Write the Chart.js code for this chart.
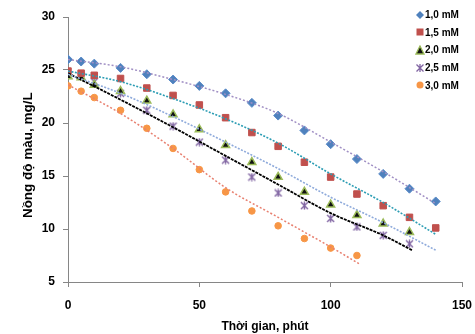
<!DOCTYPE html>
<html>
<head>
<meta charset="utf-8">
<script src="https://cdn.jsdelivr.net/npm/chart.js@4"></script>
<style>
  html, body { margin: 0; padding: 0; background: #fff; }
  #wrap { position: relative; width: 475px; height: 334px; }
  #legend {
    position: absolute; left: 415px; top: 6px;
    font: bold 10px "Liberation Sans", Arial, sans-serif; color: #000;
  }
  #legend div { height: 17.6px; display: flex; align-items: center; white-space: nowrap; }
  #legend svg { width: 10px; height: 10px; margin-right: 0; }
</style>
</head>
<body>
<div id="wrap">
  <canvas id="chart" width="475" height="334"></canvas>
  <div id="legend"></div>
</div>
<script>
// measured points (time in minutes, colour in mg/L)
const times = [0, 5, 10, 20, 30, 40, 50, 60, 70, 80, 90, 100, 110, 120, 130, 140]
const conc10 = [26.0, 25.8, 25.6, 25.2, 24.6, 24.1, 23.5, 22.8, 21.9, 20.7, 19.3, 18.0, 16.6, 15.2, 13.8, 12.6]
const conc15 = [24.9, 24.7, 24.5, 24.2, 23.3, 22.6, 21.7, 20.5, 19.1, 17.8, 16.3, 14.9, 13.3, 12.2, 11.1, 10.1]
const conc20 = [24.4, 24.3, 23.6, 23.0, 22.1, 20.8, 19.4, 17.9, 16.3, 14.9, 13.5, 12.3, 11.3, 10.5, 9.7]
const conc25 = [24.5, 24.4, 23.9, 22.8, 21.2, 19.7, 18.2, 16.5, 14.9, 13.4, 12.2, 11.0, 10.2, 9.4, 8.6]
const conc30 = [23.5, 23.0, 22.4, 21.2, 19.5, 17.6, 15.6, 13.5, 11.7, 10.3, 9.1, 8.2, 7.5]

// trend lines
const trendTimes = [0, 20, 40, 60, 80, 100, 120, 140]
const trend10 = [26.0, 25.3, 24.1, 22.7, 20.9, 18.2, 15.4, 12.4]
const trend15 = [24.9, 23.9, 22.3, 20.4, 18.1, 15.2, 12.5, 9.5]
const trend20 = [24.6, 22.8, 20.6, 18.2, 15.7, 13.0, 10.6, 8.0]
const trend25Times = [0, 20, 40, 60, 80, 100, 120, 131]
const trend25 = [24.7, 22.2, 19.6, 16.9, 14.2, 11.5, 9.4, 8.0]
const trend30Times = [0, 20, 40, 60, 80, 100, 111]
const trend30 = [23.6, 20.9, 17.6, 13.9, 11.1, 8.3, 6.7]

const seriesLabels = ['1,0 mM', '1,5 mM', '2,0 mM', '2,5 mM', '3,0 mM']
const xTicks = [0, 50, 100, 150]
const yTicks = [5, 10, 15, 20, 25, 30]

const FONT = '"Liberation Sans", Arial, sans-serif'

function toPoints(xs, ys) {
  return ys.map((y, i) => ({ x: xs[i], y: y }))
}

// Excel style star marker: X with a vertical bar
function starMarker() {
  const c = document.createElement('canvas')
  c.width = 9
  c.height = 9
  const ctx = c.getContext('2d')
  ctx.strokeStyle = '#8064A2'
  ctx.lineWidth = 1.4
  ctx.beginPath()
  ctx.moveTo(1, 1); ctx.lineTo(8, 8)
  ctx.moveTo(8, 1); ctx.lineTo(1, 8)
  ctx.moveTo(4.5, 0.5); ctx.lineTo(4.5, 8.5)
  ctx.stroke()
  return c
}

function points(label, data, style, color, border, radius, bw) {
  return {
    type: 'scatter', label: label, data: data, order: 1,
    pointStyle: style, pointRadius: radius, pointHoverRadius: radius,
    backgroundColor: color, borderColor: border, pointBorderWidth: bw, showLine: false
  }
}

function trend(data, color, dash, width) {
  return {
    type: 'line', data: data, order: 0, label: '',
    borderColor: color, borderWidth: width, borderDash: dash,
    pointRadius: 0, cubicInterpolationMode: 'monotone', fill: false
  }
}

const datasets = [
  points(seriesLabels[0], toPoints(times, conc10), 'rectRot', '#4F81BD', '#5b8cc8', 4.5, 1),
  points(seriesLabels[1], toPoints(times, conc15), 'rect', '#C0504D', '#C0504D', 4.6, 1),
  points(seriesLabels[2], toPoints(times, conc20), 'triangle', '#111111', '#9BBB59', 4.6, 1.5),
  points(seriesLabels[3], toPoints(times, conc25), starMarker(), '#8064A2', '#8064A2', 4.5, 1),
  points(seriesLabels[4], toPoints(times, conc30), 'circle', '#F79646', '#F79646', 3.3, 1),
  trend(toPoints(trendTimes, trend10), '#a08fc4', [2, 2], 1.5),
  trend(toPoints(trendTimes, trend15), '#2c9db4', [2, 1.5], 1.6),
  trend(toPoints(trendTimes, trend20), '#8eaadb', [2, 1.5], 1.6),
  trend(toPoints(trend25Times, trend25), '#000000', [3, 1], 1.8),
  trend(toPoints(trend30Times, trend30), '#e88070', [2, 2], 1.5)
]

new Chart(document.getElementById('chart').getContext('2d'), {
  type: 'scatter',
  data: { datasets: datasets },
  options: {
    responsive: false,
    animation: false,
    layout: { padding: { left: 14, right: 13, top: 17, bottom: 0 } },
    plugins: { legend: { display: false }, tooltip: { enabled: false } },
    scales: {
      x: {
        type: 'linear', min: 0, max: 150,
        afterBuildTicks: (scale) => { scale.ticks = xTicks.map((v) => ({ value: v })) },
        afterFit: (scale) => {
          scale.height = 52
          scale.paddingRight = 0
          scale.paddingLeft = 0
        },
        border: { color: '#868686', width: 1 },
        grid: { display: true, drawOnChartArea: false, tickLength: 5, color: '#868686' },
        ticks: { padding: 11, color: '#000', font: { family: FONT, size: 12, weight: 'bold' } },
        title: {
          display: true, text: 'Thời gian, phút', color: '#000',
          font: { family: FONT, size: 12, weight: 'bold' }, padding: { top: 4, bottom: 0 }
        }
      },
      y: {
        type: 'linear', min: 5, max: 30,
        afterBuildTicks: (scale) => { scale.ticks = yTicks.map((v) => ({ value: v })) },
        afterFit: (scale) => { scale.width = 54 },
        border: { color: '#868686', width: 1 },
        grid: { display: true, drawOnChartArea: false, tickLength: 5, color: '#868686' },
        ticks: { padding: 8, color: '#000', font: { family: FONT, size: 12, weight: 'bold' } },
        title: {
          display: true, text: 'Nồng độ màu, mg/L   ', color: '#000',
          font: { family: FONT, size: 13.5, weight: 'bold' }, padding: { top: 6, bottom: 2 }
        }
      }
    }
  }
})

// legend in the top right corner, stacked like the original
const legendMarkers = [
  '<polygon points="5,1 9,5 5,9 1,5" fill="#4F81BD"/>',
  '<rect x="1.5" y="1.5" width="7" height="7" fill="#C0504D"/>',
  '<polygon points="5,1 9,9 1,9" fill="#111" stroke="#9BBB59" stroke-width="1.3"/>',
  '<path d="M1.5 1.5L8.5 8.5M8.5 1.5L1.5 8.5M5 1V9" stroke="#8064A2" stroke-width="1.3"/>',
  '<circle cx="5" cy="5" r="3.5" fill="#F79646"/>'
]
document.getElementById('legend').innerHTML = seriesLabels.map((label, i) =>
  '<div><svg viewBox="0 0 10 10">' + legendMarkers[i] + '</svg>' + label + '</div>'
).join('')
</script>
</body>
</html>
